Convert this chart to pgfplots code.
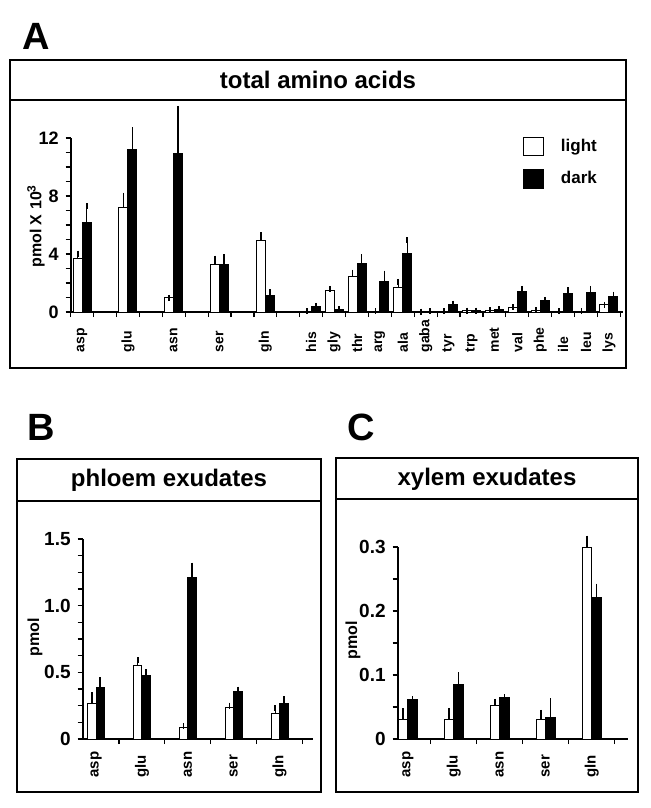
\documentclass[border=0pt]{standalone}
\usepackage{pgfplots}
\usepackage{pgfplotstable}
\pgfplotsset{compat=1.18}
\usepackage{fontspec}
\setmainfont{Liberation Sans}

\pgfplotstableread{
x l le d de
0 3.66 0.36 6.14 1.15
2 7.24 0.78 11.2 1.33
4 0.97 0.0 10.9 3.1
6 3.31 0.37 3.26 0.5
8 4.92 0.39 1.15 0.21
10 0.06 0 0.40 0.03
11 1.49 0.10 0.18 0
12 2.48 0.23 3.33 0.46
13 0.05 0 2.07 0.57
14 1.72 0.35 4.02 0.92
15 0.03 0 0.05 0
16 0.06 0 0.53 0.05
17 0.10 0 0.10 0
18 0.12 0 0.20 0
19 0.30 0.02 1.43 0.17
20 0.12 0 0.78 0.05
21 0.06 0 1.26 0.24
22 0.06 0 1.36 0.23
23 0.50 0 1.08 0.12
}\dataA

\pgfplotstableread{
x l le d de
0 0.268 0.06 0.39 0.05
1 0.55 0.04 0.475 0.025
2 0.088 0.01 1.21 0.09
3 0.24 0.01 0.355 0.015
4 0.19 0.04 0.27 0.03
}\dataB

\pgfplotstableread{
x l le d de
0 0.031 0.012 0.062 0
1 0.030 0.014 0.0856 0.014
2 0.053 0.005 0.065 0
3 0.030 0.011 0.033 0.026
4 0.299 0.014 0.221 0.017
}\dataC

\pgfplotsset{
  panel/.style={
    scale only axis, clip=false, enlargelimits=false,
    axis x line=bottom, axis y line=left,
    axis line style={-, line width=0.8pt},
    tick align=outside,
    ybar=0pt,
    major tick style={black, line width=0.6pt},
    minor tick style={black, line width=0.6pt},
    major tick length=2.5pt, minor tick length=2.5pt,
    ymin=0,
    /pgf/number format/assume math mode=true,
    tick label style={font=\bfseries\fontsize{9}{10}\selectfont},
    label style={font=\bfseries\fontsize{8}{9}\selectfont},
    error bars/y dir=plus, error bars/y explicit,
    error bars/error mark=-,
    error bars/error bar style={black, line width=0.8pt},
    error bars/error mark options={black, mark size=1.5pt, line width=0.9pt},
  },
  lightbar/.style={fill=white, draw=black, line width=0.5pt,
    legend image code/.code={\draw[fill=white,draw=black,line width=0.6pt] (0pt,-4.5pt) rectangle (10pt,4.5pt);}},
  darkbar/.style={fill=black, draw=black, line width=0.5pt,
    legend image code/.code={\draw[fill=black,draw=black,line width=0.6pt] (0pt,-4.5pt) rectangle (10pt,4.5pt);}},
}

\begin{document}
\begin{tikzpicture}
\begin{scope}[x=0.5pt, y=-0.5pt]
  \useasboundingbox (0,0) rectangle (650,808);
  % panel A frame
  \draw[line width=0.8pt] (10,60) rectangle (626,368);
  \draw[line width=0.8pt] (10,100) -- (626,100);
  \node[font=\bfseries\fontsize{12}{14}\selectfont] at (318,80) {total amino acids};
  \node[font=\bfseries\fontsize{19}{20}\selectfont] at (36,36) {A};
  % panel B frame
  \draw[line width=0.8pt] (17,459) rectangle (321,792);
  \draw[line width=0.8pt] (17,501) -- (321,501);
  \node[font=\bfseries\fontsize{12}{14}\selectfont] at (169,480) {phloem exudates};
  \node[font=\bfseries\fontsize{19}{20}\selectfont] at (41,427) {B};
  % panel C frame
  \draw[line width=0.8pt] (336,458) rectangle (638,792);
  \draw[line width=0.8pt] (336,499) -- (638,499);
  \node[font=\bfseries\fontsize{12}{14}\selectfont] at (487,479) {xylem exudates};
  \node[font=\bfseries\fontsize{19}{20}\selectfont] at (361,427) {C};
\end{scope}

% Panel A
\begin{axis}[panel,
  at={(35.35pt,-156pt)}, anchor=south west,
  width=276pt, height=87pt,
  xmin=-0.5, xmax=23.6, ymax=12,
  bar width=4.5pt,
  ytick={0,4,8,12}, yticklabels={0,4,8,12},
  minor y tick num=3,
  xtick={-0.5,0.5,...,23.5}, xticklabels={},
  extra x ticks={0,2,4,6,8,10,11,...,23},
  extra x tick labels={asp,glu,asn,ser,gln,his,gly,thr,arg,ala,gaba,tyr,trp,met,val,phe,ile,leu,lys},
  extra x tick style={major tick length=0pt,
    tick label style={yshift=-5pt, rotate=90, anchor=east, text width=15pt, align=left, inner sep=0pt,
      font=\bfseries\fontsize{7}{8}\selectfont}},
  ylabel={pmol X 10\textsuperscript{3}},
  ylabel style={at={(rel axis cs:-0.063,0.494)}, anchor=center},
  legend style={at={(0.819,1.017)}, anchor=north west, draw=none, fill=none,
    inner sep=0pt, outer sep=0pt, row sep=4.5pt,
    font=\bfseries\fontsize{8.5}{10}\selectfont,
    /tikz/every odd column/.append style={column sep=6.5pt}},
  legend cell align=left,
]
\addplot[lightbar] table[x=x, y=l, y error=le] {\dataA};
\addlegendentry{light}
\addplot[darkbar] table[x=x, y=d, y error=de] {\dataA};
\addlegendentry{dark}
\end{axis}

% Panel B
\begin{axis}[panel,
  at={(41.35pt,-369.5pt)}, anchor=south west,
  width=115pt, height=100pt,
  xmin=-0.29, xmax=4.72, ymax=1.5,
  bar width=4.25pt,
  ytick={0,0.5,1,1.5}, yticklabels={0,0.5,1.0,1.5},
  minor y tick num=3,
  tick label style={font=\bfseries\fontsize{9.5}{10}\selectfont},
  xtick={0.5,1.5,...,4.5}, xticklabels={},
  extra x ticks={0,1,2,3,4},
  extra x tick labels={asp,glu,asn,ser,gln},
  extra x tick style={major tick length=0pt,
    tick label style={yshift=-8pt, rotate=90, anchor=east, text width=11pt, align=left, inner sep=0pt,
      font=\bfseries\fontsize{7.5}{8}\selectfont}},
  ylabel={pmol},
  ylabel style={at={(rel axis cs:-0.207,0.51)}, anchor=center},
]
\addplot[lightbar] table[x=x, y=l, y error=le] {\dataB};
\addplot[darkbar] table[x=x, y=d, y error=de] {\dataB};
\end{axis}

% Panel C
\begin{axis}[panel,
  at={(198.85pt,-369.5pt)}, anchor=south west,
  width=115.15pt, height=96pt,
  xmin=-0.22, xmax=4.79, ymax=0.3,
  bar width=4.75pt,
  ytick={0,0.1,0.2,0.3}, yticklabels={0,0.1,0.2,0.3},
  minor y tick num=1,
  tick label style={font=\bfseries\fontsize{9.5}{10}\selectfont},
  xtick={0.5,1.5,...,4.5}, xticklabels={},
  extra x ticks={0,1,2,3,4},
  extra x tick labels={asp,glu,asn,ser,gln},
  extra x tick style={major tick length=0pt,
    tick label style={yshift=-8pt, rotate=90, anchor=east, text width=11pt, align=left, inner sep=0pt,
      font=\bfseries\fontsize{7.5}{8}\selectfont}},
  ylabel={pmol},
  ylabel style={at={(rel axis cs:-0.194,0.516)}, anchor=center},
]
\addplot[lightbar] table[x=x, y=l, y error=le] {\dataC};
\addplot[darkbar] table[x=x, y=d, y error=de] {\dataC};
\end{axis}
\end{tikzpicture}
\end{document}
